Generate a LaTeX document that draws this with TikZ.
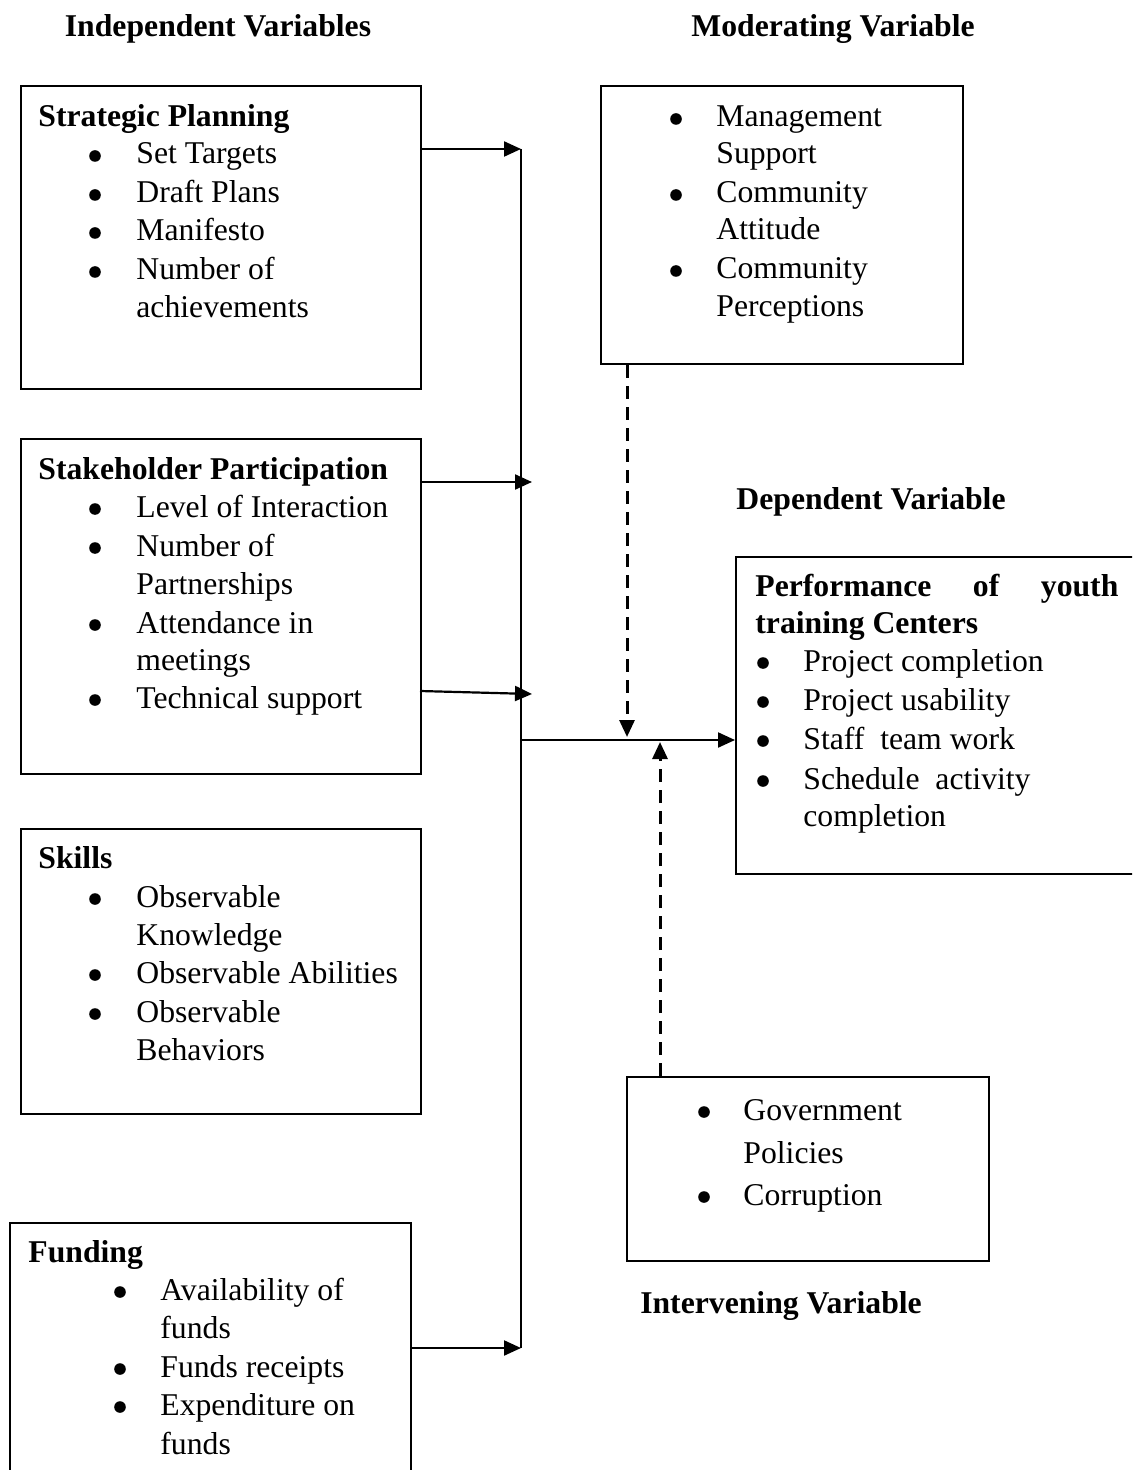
\documentclass[tikz,border=0pt]{standalone}
\usepackage{fontspec}
\setmainfont{Liberation Serif}
\usetikzlibrary{arrows.meta}
\begin{document}
\begin{tikzpicture}[x=0.5pt,y=-0.5pt,
  box/.style={draw, line width=1.1pt, anchor=north west, inner sep=0pt},
  lbl/.style={anchor=base west, inner sep=0pt, font=\fontsize{15.85pt}{19.3pt}\selectfont},
  hdr/.style={anchor=base west, inner sep=0pt, font=\fontsize{15.85pt}{19.3pt}\selectfont\bfseries},
  ttl/.style={anchor=base, inner sep=0pt, font=\fontsize{15.85pt}{19.3pt}\selectfont\bfseries},
  arr/.style={line width=1.1pt, -{Triangle[length=8.5pt,width=7.5pt]}},
  dsh/.style={line width=1.5pt, dash pattern=on 6.5pt off 4pt, -{Triangle[length=8.5pt,width=7.5pt]}}]
\useasboundingbox (0,0) rectangle (1132,1470);
\clip (0,0) rectangle (1132,1470);

% titles
\node[ttl] (tind) at (218,37) {Independent Variables};
\node[ttl] (tmod) at (833,37) {Moderating Variable};
\node[ttl] (tdep) at (871,509) {Dependent Variable};
\node[ttl] (tint) at (781,1313) {Intervening Variable};

% boxes
\node[box, minimum width=200pt, minimum height=151.5pt] (sp) at (20,85) {};
\node[box, minimum width=200pt, minimum height=167.5pt] (sh) at (20,438) {};
\node[box, minimum width=200pt, minimum height=142.5pt] (sk) at (20,828) {};
\node[box, minimum width=200.5pt, minimum height=150pt] (fu) at (9,1222) {};
\node[box, minimum width=181pt, minimum height=139pt] (mo) at (600,85) {};
\node[box, minimum width=210pt, minimum height=158.5pt] (de) at (735,556) {};
\node[box, minimum width=181pt, minimum height=92pt] (in) at (626,1076) {};

% Strategic planning
\node[hdr] (sph) at (38,127) {Strategic Planning};
\node[lbl] (sp1) at (136,164) {Set Targets};
\node[lbl] (sp2) at (136,203) {Draft Plans};
\node[lbl] (sp3) at (136,241) {Manifesto};
\node[lbl] (sp4) at (136,280) {Number of};
\node[lbl] (sp5) at (136,318) {achievements};
\foreach \y in {164,203,241,280} \fill (95,\y-8) circle[radius=2.9pt];

% Stakeholder participation
\node[hdr] (shh) at (38,480) {Stakeholder Participation};
\node[lbl] (sh1) at (136,517) {Level of Interaction};
\node[lbl] (sh2) at (136,556) {Number of};
\node[lbl] (sh3) at (136,594) {Partnerships};
\node[lbl] (sh4) at (136,633) {Attendance in};
\node[lbl] (sh5) at (136,670) {meetings};
\node[lbl] (sh6) at (136,708) {Technical support};
\foreach \y in {517,556,633,708} \fill (95,\y-8) circle[radius=2.9pt];

% Skills
\node[hdr] (skh) at (38,868) {Skills};
\node[lbl] (sk1) at (136,907) {Observable};
\node[lbl] (sk2) at (136,945) {Knowledge};
\node[lbl] (sk3) at (136,983) {Observable Abilities};
\node[lbl] (sk4) at (136,1022) {Observable};
\node[lbl] (sk5) at (136,1060) {Behaviors};
\foreach \y in {907,983,1022} \fill (95,\y-8) circle[radius=2.9pt];

% Funding
\node[hdr] (fuh) at (28,1262) {Funding};
\node[lbl] (fu1) at (160,1300) {Availability of};
\node[lbl] (fu2) at (160,1338) {funds};
\node[lbl] (fu3) at (160,1377) {Funds receipts};
\node[lbl] (fu4) at (160,1415) {Expenditure on};
\node[lbl] (fu5) at (160,1454) {funds};
\foreach \y in {1300,1377,1415} \fill (120,\y-8) circle[radius=2.9pt];

% Moderating
\node[lbl] (mo1) at (716,127) {Management};
\node[lbl] (mo2) at (716,164) {Support};
\node[lbl] (mo3) at (716,203) {Community};
\node[lbl] (mo4) at (716,240) {Attitude};
\node[lbl] (mo5) at (716,279) {Community};
\node[lbl] (mo6) at (716,317) {Perceptions};
\foreach \y in {127,203,279} \fill (676,\y-8) circle[radius=2.9pt];

% Dependent
\node[hdr] (deh1) at (755,596) {\makebox[181.5pt][s]{Performance of youth}};
\node[hdr] (deh2) at (755,633) {training Centers};
\node[lbl] (de1) at (803,671) {Project completion};
\node[lbl] (de2) at (803,710) {Project usability};
\node[lbl] (de3) at (803,749) {Staff\ \ team work};
\node[lbl] (de4) at (803,789) {Schedule\ \ activity};
\node[lbl] (de5) at (803,826) {completion};
\foreach \y in {671,710,749,789} \fill (763,\y-8) circle[radius=2.9pt];

% Intervening
\node[lbl] (in1) at (743,1120) {Government};
\node[lbl] (in2) at (743,1163) {Policies};
\node[lbl] (in3) at (743,1205) {Corruption};
\foreach \y in {1120,1205} \fill (704,\y-8) circle[radius=2.9pt];

% trunk
\coordinate (jt) at (521,149);
\coordinate (jb) at (521,1348);
\coordinate (jm) at (521,740);
\coordinate (sha) at (532,482);
\coordinate (tsa) at (532,694);
\coordinate (mda) at (627,737);
\coordinate (ina) at (660,742);

\draw[line width=1.1pt] (jt) -- (jb);
\draw[arr] (sp.east |- jt) -- (jt);
\draw[arr] (sh.east |- sha) -- (sha);
\draw[arr] (420,691) -- (tsa);
\draw[arr] (fu.east |- jb) -- (jb);
\draw[arr] (jm) -- (de.west |- jm);
\draw[dsh] (mo.south -| mda) -- (mda);
\draw[dsh] (in.north -| ina) -- (ina);
\end{tikzpicture}
\end{document}
